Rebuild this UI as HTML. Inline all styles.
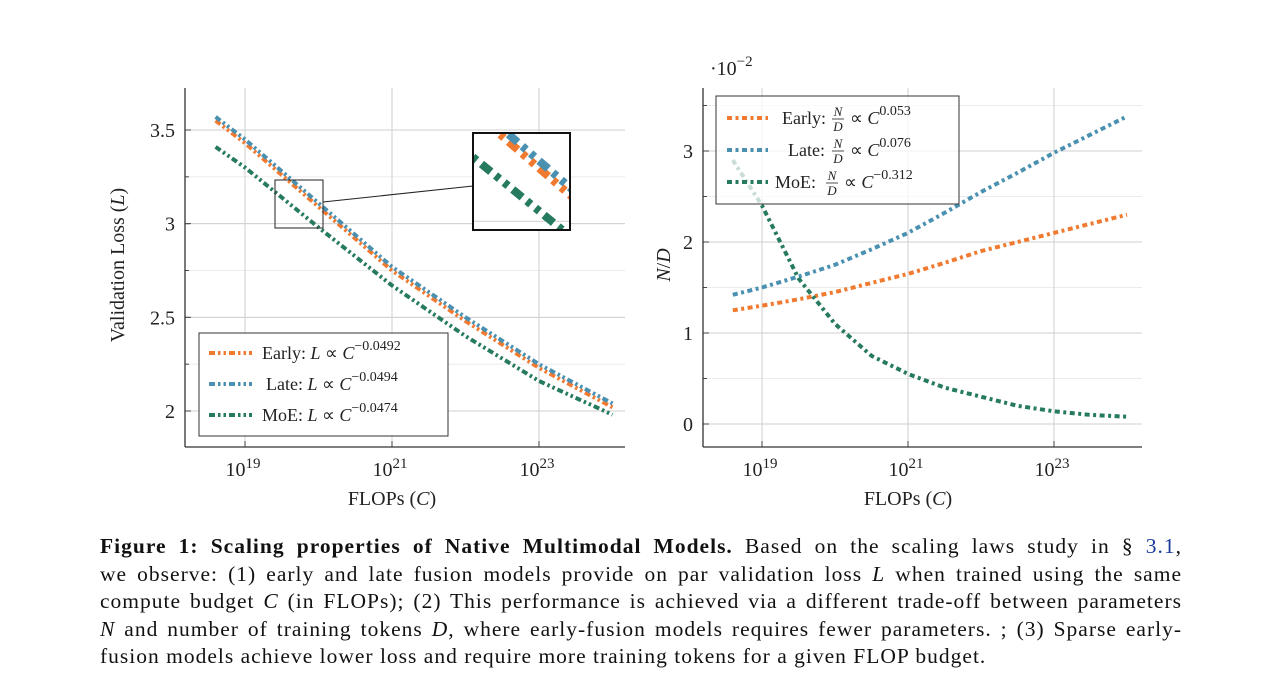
<!DOCTYPE html>
<html><head><meta charset="utf-8">
<style>
body{margin:0;background:#fff;width:1284px;height:694px;overflow:hidden;font-family:"Liberation Serif",serif;}
svg text{font-family:"Liberation Serif",serif;fill:#222;}
#cap{position:absolute;left:100px;top:533px;width:1082px;font-size:21.5px;letter-spacing:1px;line-height:27.5px;color:#111;}
#cap div{text-align:justify;text-align-last:justify;white-space:nowrap;}
#cap div.last{text-align-last:left;}
i{font-style:italic}
</style></head><body>
<svg id="chart" width="1284" height="530" style="position:absolute;left:0;top:0"></svg>
<div id="cap">
<div><b>Figure 1: Scaling properties of Native Multimodal Models.</b> Based on the scaling laws study in § <span style="color:#1a3a9a">3.1</span>,</div>
<div>we observe: (1) early and late fusion models provide on par validation loss <i>L</i> when trained using the same</div>
<div>compute budget <i>C</i> (in FLOPs); (2) This performance is achieved via a different trade-off between parameters</div>
<div><i>N</i> and number of training tokens <i>D</i>, where early-fusion models requires fewer parameters. ; (3) Sparse early-</div>
<div class="last">fusion models achieve lower loss and require more training tokens for a given FLOP budget.</div>
</div>
<script>
// Left chart data (x = log10 FLOPs)
const lossX = [18.6, 19, 20, 21, 22, 23, 24];
const lossEarly = [3.55, 3.43, 3.09, 2.75, 2.48, 2.23, 2.02];
const lossLate = [3.57, 3.45, 3.11, 2.77, 2.50, 2.25, 2.04];
const lossMoE = [3.41, 3.30, 2.98, 2.67, 2.40, 2.16, 1.98];
const lossTicks = [2, 2.5, 3, 3.5];
const lossLabels = ["2", "2.5", "3", "3.5"];
// Right chart data
const ndX = [18.6, 19, 19.5, 20, 20.5, 21, 21.5, 22, 22.5, 23, 23.5, 24];
const ndEarly = [1.25, 1.30, 1.37, 1.45, 1.55, 1.65, 1.77, 1.90, 2.0, 2.10, 2.20, 2.30];
const ndLate = [1.42, 1.50, 1.62, 1.75, 1.92, 2.10, 2.32, 2.55, 2.76, 2.98, 3.18, 3.38];
const ndMoE = [2.90, 2.40, 1.60, 1.10, 0.75, 0.55, 0.40, 0.30, 0.20, 0.14, 0.10, 0.08];
const ndTicks = [0, 1, 2, 3];
const ndLabels = ["0", "1", "2", "3"];
const xTicks = [19, 21, 23];
const xTickLabels = ["19", "21", "23"];
const legendLeft = ["Early", "Late", "MoE"];
const colors = ["#f07a30", "#4a90b0", "#257a60"];
const NS = "http://www.w3.org/2000/svg";
const svg = document.getElementById('chart');
function mk(tag, attrs, parent){const e=document.createElementNS(NS,tag);for(const k in attrs)e.setAttribute(k,attrs[k]);(parent||svg).appendChild(e);return e;}

function chart(o){
  const xs = v => o.x0 + (v-19)*(o.x1-o.x0)/2;
  const ys = v => o.yA + (v-o.vA)*(o.yB-o.yA)/(o.vB-o.vA);
  const g = mk('g',{});
  
  
  for(let v=o.minStart; v<=o.maxV; v+=o.minorStep){
    const y=ys(v); if(y<o.T+2||y>o.B-2) continue;
    const l=mk('line',{x1:o.L,x2:o.R,y1:y,y2:y,stroke:'#ebebeb','stroke-width':1},g);
    
    
    mk('line',{x1:o.L,x2:o.L+4,y1:y,y2:y,stroke:'#444','stroke-width':1},g);
  }
  o.yTicks.forEach((v,i)=>{
    const l=mk('line',{x1:o.L,x2:o.R,y1:ys(v),y2:ys(v),stroke:'#cfcfcf','stroke-width':1},g);
    
    
    mk('line',{x1:o.L,x2:o.L+6,y1:ys(v),y2:ys(v),stroke:'#444','stroke-width':1},g);
    const t=mk('text',{x:o.L-10,y:ys(v)+7,'text-anchor':'end','font-size':20},g);
    t.textContent=o.yLabels[i];
    
    
  });
  xTicks.forEach((v,i)=>{
    const l=mk('line',{x1:xs(v),x2:xs(v),y1:o.T,y2:o.B,stroke:'#cfcfcf','stroke-width':1},g);
    
    
    mk('line',{x1:xs(v),x2:xs(v),y1:o.B,y2:o.B-6,stroke:'#444','stroke-width':1},g);
    const t=mk('text',{x:xs(v)-2,y:o.B+29,'text-anchor':'middle','font-size':20},g);
    t.innerHTML='10<tspan dy="-8" font-size="15">'+xTickLabels[i]+'</tspan>';
    
    
  });
  mk('line',{x1:o.L,x2:o.L,y1:o.T,y2:o.B,stroke:'#333','stroke-width':1.3},g);
  mk('line',{x1:o.L,x2:o.R,y1:o.B,y2:o.B,stroke:'#333','stroke-width':1.3},g);
  const xl=mk('text',{x:o.xLabX,y:o.B+58,'text-anchor':'middle','font-size':20},g);
  xl.innerHTML='FLOPs (<tspan font-style="italic">C</tspan>)';
  
  
  const yl=mk('text',{x:0,y:0,'text-anchor':'middle','font-size':20,transform:`translate(${o.yLabX},265) rotate(-90)`},g);
  yl.innerHTML=o.yTitle;
  
  
  const pathFor=(xsArr,vals)=>vals.map((v,i)=>(i?'L':'M')+xs(xsArr[i]).toFixed(1)+','+ys(v).toFixed(1)).join('');
  o.series.forEach((s,k)=>{
    const p=mk('path',{d:pathFor(o.xData,s),fill:'none',stroke:colors[k],'stroke-width':4,'stroke-dasharray':o.dash},g);
    
    
  });
  return {g,xs,ys,pathFor};
}

const A = chart({name:'loss-chart',L:185,R:625,T:88,B:447,x0:245,x1:392,yA:411,vA:2,yB:130,vB:3.5,
  minStart:1.75,maxV:3.75,minorStep:0.25,yTicks:lossTicks,yLabels:lossLabels,xLabX:392,yLabX:124,
  yTitle:'Validation Loss (<tspan font-style="italic">L</tspan>)',xData:lossX,series:[lossEarly,lossLate,lossMoE],dash:'6 3 2.5 3 2.5 3'});

mk('rect',{x:275,y:180,width:48,height:48,fill:'none',stroke:'#222','stroke-width':1},A.g);
mk('line',{x1:323,y1:202,x2:473,y2:186,stroke:'#222','stroke-width':1},A.g);
mk('clipPath',{id:'cl'}).appendChild(document.createElementNS(NS,'rect'));
const cr=document.querySelector('#cl rect');cr.setAttribute('x',275);cr.setAttribute('y',180);cr.setAttribute('width',48);cr.setAttribute('height',48);
mk('rect',{x:473,y:133,width:97,height:97,fill:'#fff'},A.g);
const ins=mk('g',{transform:'translate(473,133) scale(2.02) translate(-275,-180)','clip-path':'url(#cl)'},A.g);


mk('line',{x1:275,x2:323,y1:A.ys(3),y2:A.ys(3),stroke:'#cfcfcf','stroke-width':0.5},ins);
[lossEarly,lossLate,lossMoE].forEach((s,k)=>{
  const p=mk('path',{d:A.pathFor(lossX,s),fill:'none',stroke:colors[k],'stroke-width':4,'stroke-dasharray':'6 3 2.5 3 2.5 3'},ins);
  
  
});
mk('rect',{x:473,y:133,width:97,height:97,fill:'none',stroke:'#111','stroke-width':2},A.g);

const lg=mk('g',{});


mk('rect',{x:199,y:333,width:249,height:103,fill:'#fff',stroke:'#333','stroke-width':1},lg);
const expL=['−0.0492','−0.0494','−0.0474'];
legendLeft.forEach((n,k)=>{
  const y=353+k*31;
  mk('line',{x1:209,x2:252,y1:y,y2:y,stroke:colors[k],'stroke-width':4,'stroke-dasharray':'6 3 2.5 3 2.5 3'},lg);
  const t=mk('text',{x:[262,266,262][k],y:y+6,'font-size':18},lg);
  t.innerHTML=n+': <tspan font-style="italic">L</tspan> ∝ <tspan font-style="italic">C</tspan><tspan dy="-9" font-size="14">'+expL[k]+'</tspan>';
  
  
});

const B = chart({name:'nd-chart',L:703,R:1142,T:88,B:447,x0:762,x1:908,yA:424,vA:0,yB:151,vB:3,
  minStart:-0.0001,maxV:3.6,minorStep:0.5,yTicks:ndTicks,yLabels:ndLabels,xLabX:908,yLabX:670,
  yTitle:'<tspan font-style="italic">N</tspan>/<tspan font-style="italic">D</tspan>',xData:ndX,series:[ndEarly,ndLate,ndMoE],dash:'5 3.5 3 3.5'});
const ex=mk('text',{x:710,y:75,'font-size':20});
ex.innerHTML='·10<tspan dy="-9" font-size="15">−2</tspan>';



const rg=mk('g',{});


mk('rect',{x:716,y:96,width:243,height:108,fill:'#fff','fill-opacity':0.75,stroke:'#333','stroke-width':1},rg);
const expR=['0.053','0.076','−0.312'];
legendLeft.forEach((n,k)=>{
  const y=118+k*32;
  mk('line',{x1:727,x2:768,y1:y,y2:y,stroke:colors[k],'stroke-width':4,'stroke-dasharray':'5 3.5 3 3.5'},rg);
  const t=mk('text',{x:[782,788,775][k],y:y+6,'font-size':18},rg);
  t.innerHTML=n+':';
  
  
  const fx=[838,838,832][k];
  const f=mk('text',{x:fx,y:y-2,'font-size':13,'text-anchor':'middle','font-style':'italic'},rg);f.textContent='N';
  mk('line',{x1:fx-6,x2:fx+6,y1:y+1,y2:y+1,stroke:'#222','stroke-width':0.8},rg);
  const d=mk('text',{x:fx,y:y+13,'font-size':13,'text-anchor':'middle','font-style':'italic'},rg);d.textContent='D';
  const r=mk('text',{x:fx+12,y:y+6,'font-size':18},rg);
  r.innerHTML='∝ <tspan font-style="italic">C</tspan><tspan dy="-9" font-size="14">'+expR[k]+'</tspan>';
});
</script>
</body></html>
